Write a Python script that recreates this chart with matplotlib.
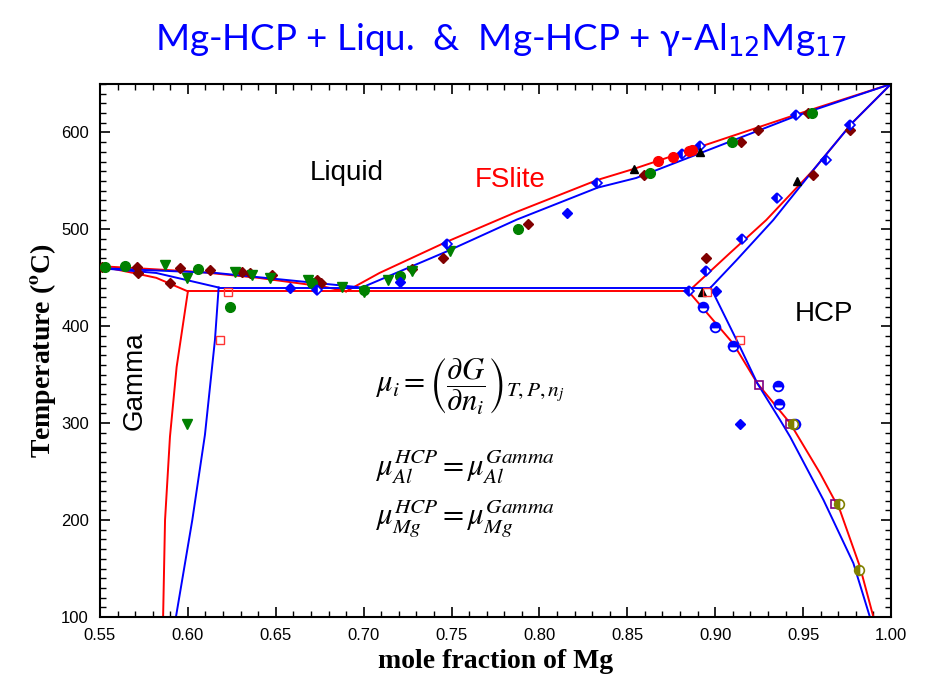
import matplotlib.pyplot as plt
from matplotlib.ticker import MultipleLocator

# calculated phase boundaries (red = FSlite, blue = second assessment)
red_liq_al_x = [0.550, 0.570, 0.607, 0.640, 0.677, 0.690]
red_liq_al_t = [462, 460, 456, 450, 441, 436]
red_liq_mg_x = [0.690, 0.709, 0.747, 0.787, 0.833, 0.853, 0.952, 1.000]
red_liq_mg_t = [436, 455, 487, 518, 551, 562, 622, 650]
red_gam_sol_x = [0.550, 0.569, 0.582, 0.600]
red_gam_sol_t = [462, 455, 450, 436]
red_gam_svs_x = [0.600, 0.5936, 0.5898, 0.5870, 0.5859]
red_gam_svs_t = [436, 358, 286, 200, 100]
red_eut_x = [0.600, 0.8848]
red_eut_t = [436, 436]
red_hcp_sol_x = [0.8848, 0.9084, 0.929, 0.9557, 0.978, 1.000]
red_hcp_sol_t = [436, 475.6, 509.6, 561, 610, 650]
red_hcp_svs_x = [0.8848, 0.9103, 0.924, 0.9426, 0.9596, 0.971, 0.9823, 0.990]
red_hcp_svs_t = [436, 382, 341, 300, 248.5, 210, 152, 100]

blue_liq_al_x = [0.550, 0.616, 0.699]
blue_liq_al_t = [460, 455, 440]
blue_liq_mg_x = [0.699, 0.747, 0.787, 0.833, 0.855, 0.946, 1.000]
blue_liq_mg_t = [440, 477, 510, 543, 553, 617, 650]
blue_gam_sol_x = [0.550, 0.582, 0.6175]
blue_gam_sol_t = [460, 455, 440]
blue_gam_svs_x = [0.6175, 0.6154, 0.6097, 0.6025, 0.5932]
blue_gam_svs_t = [440, 386, 288, 200, 100]
blue_eut_x = [0.6175, 0.8974]
blue_eut_t = [440, 440]
blue_hcp_sol_x = [0.8974, 0.912, 0.933, 0.9557, 0.978, 1.000]
blue_hcp_sol_t = [440, 468, 509.6, 561, 610, 650]
blue_hcp_svs_x = [0.8974, 0.914, 0.924, 0.937, 0.9426, 0.9616, 0.9786, 0.988]
blue_hcp_svs_t = [440, 379, 341, 303, 286, 220.7, 155.5, 100]

# experimental points
drd_x = [0.551, 0.571, 0.5718, 0.5898, 0.5955, 0.6126, 0.6306, 0.6353, 0.6477,
         0.6733, 0.676, 0.7273, 0.745, 0.7933, 0.8595, 0.9145, 0.9245, 0.953,
         0.9767, 0.9554, 0.8948]
drd_t = [461, 461, 455, 444.5, 459.8, 458, 456.3, 454.7, 453, 447.8, 444.4, 459,
         470, 506, 556, 590, 602.5, 620.4, 602.5, 556, 470.4]
gci_x = [0.5528, 0.564, 0.606, 0.6704, 0.700, 0.7207, 0.788, 0.863, 0.9093,
         0.955, 0.624]
gci_t = [461.5, 462, 459, 444.4, 437.4, 452, 500, 558.5, 590.5, 619.7, 419.5]
gtr_x = [0.587, 0.5997, 0.6268, 0.6363, 0.6467, 0.6685, 0.6875, 0.700, 0.714,
         0.7273, 0.749, 0.5997]
gtr_t = [463, 449.5, 456.3, 453, 449.5, 447.8, 441, 435, 447.8, 457.3, 478, 299]
bdi_x = [0.658, 0.7207, 0.8158, 0.9002, 0.9141]
bdi_t = [440, 446, 516.6, 436.7, 299]
bhd_x = [0.6733, 0.7473, 0.8326, 0.881, 0.8915, 0.946, 0.9767, 0.9633, 0.935,
         0.915, 0.8948, 0.8848]
bhd_t = [437.4, 485, 548.2, 577.8, 586, 618, 607.7, 571.6, 532, 490, 457.4, 436.7]
ktr_x = [0.8538, 0.8915, 0.9463, 0.8922]
ktr_t = [562, 580, 550.3, 435]
rci_x = [0.8676, 0.8758, 0.8848, 0.8866]
rci_t = [570.5, 574.4, 581, 582]
rsq_x = [0.623, 0.6183, 0.8954, 0.9141]
rsq_t = [435.6, 385.8, 435.6, 385.8]
bhc_x = [0.893, 0.900, 0.910, 0.9359, 0.9363, 0.9454]
bhc_t = [419.6, 399, 379.6, 338.7, 319.5, 299]
psq_x = [0.9249, 0.9426, 0.968]
psq_t = [339.4, 299, 216.5]
oci_x = [0.944, 0.9705, 0.982]
oci_t = [299, 216.5, 148.5]

fig = plt.figure(figsize=(9.26, 6.77), dpi=100)
ax = fig.add_axes([100 / 926, 60 / 677, 791 / 926, 533 / 677])

red_lines = [(red_liq_al_x, red_liq_al_t), (red_liq_mg_x, red_liq_mg_t),
             (red_gam_sol_x, red_gam_sol_t), (red_gam_svs_x, red_gam_svs_t),
             (red_eut_x, red_eut_t), (red_hcp_sol_x, red_hcp_sol_t),
             (red_hcp_svs_x, red_hcp_svs_t)]
blue_lines = [(blue_liq_al_x, blue_liq_al_t), (blue_liq_mg_x, blue_liq_mg_t),
              (blue_gam_sol_x, blue_gam_sol_t), (blue_gam_svs_x, blue_gam_svs_t),
              (blue_eut_x, blue_eut_t), (blue_hcp_sol_x, blue_hcp_sol_t),
              (blue_hcp_svs_x, blue_hcp_svs_t)]
for x, t in red_lines:
    ax.plot(x, t, color='#ff0000', lw=1.4, zorder=2)
for x, t in blue_lines:
    ax.plot(x, t, color='#0000ff', lw=1.4, zorder=2)

ms = 6.5
ax.plot(drd_x, drd_t, 'D', color='#800000', ms=ms - 1, ls='none', zorder=3)
ax.plot(gci_x, gci_t, 'o', color='#008000', ms=ms + 0.5, ls='none', zorder=3)
ax.plot(gtr_x, gtr_t, 'v', color='#008000', ms=ms, ls='none', zorder=3)
ax.plot(bdi_x, bdi_t, 'D', color='#0000ff', ms=ms - 1.5, ls='none', zorder=3)
ax.plot(bhd_x, bhd_t, 'D', color='#0000ff', ms=ms - 1.5, ls='none', zorder=3,
        fillstyle='left', markerfacecoloralt='white', mew=1.2)
ax.plot(ktr_x, ktr_t, '^', color='black', ms=ms - 0.5, ls='none', zorder=3)
ax.plot(rci_x, rci_t, 'o', color='#ff0000', ms=ms + 0.5, ls='none', zorder=3)
ax.plot(rsq_x, rsq_t, 's', mfc='none', mec='#ff3333', ms=ms - 1, ls='none',
        mew=1.0, zorder=3)
ax.plot(bhc_x, bhc_t, 'o', color='#0000ff', ms=ms + 0.5, ls='none', zorder=3,
        fillstyle='top', markerfacecoloralt='white', mew=1.3)
ax.plot(psq_x, psq_t, 's', mfc='none', mec='#800080', ms=ms - 1, ls='none',
        mew=1.2, zorder=3)
ax.plot(oci_x, oci_t, 'o', color='#808000', ms=ms + 0.5, ls='none', zorder=4,
        fillstyle='left', markerfacecoloralt='white', mew=1.2)

ax.set_xlim(0.55, 1.00)
ax.set_ylim(100, 650)
ax.xaxis.set_major_locator(MultipleLocator(0.05))
ax.xaxis.set_minor_locator(MultipleLocator(0.01))
ax.yaxis.set_major_locator(MultipleLocator(100))
ax.yaxis.set_minor_locator(MultipleLocator(10))
ax.set_xticklabels([f'{v:.2f}' for v in ax.get_xticks()])
ax.tick_params(which='both', direction='in', top=True, right=True,
               labelsize=12, pad=8)
ax.tick_params(which='major', length=7, width=1.2)
ax.tick_params(which='minor', length=4, width=1.0)
for lab in ax.get_xticklabels() + ax.get_yticklabels():
    lab.set_fontfamily('Liberation Sans')
for sp in ax.spines.values():
    sp.set_linewidth(1.5)

ax.set_xlabel('mole fraction of Mg', family='Liberation Serif',
              weight='bold', fontsize=20, labelpad=4)
ax.set_ylabel(r'Temperature ($\mathbf{^{o}}$C)', family='Liberation Serif',
              weight='bold', fontsize=20, math_fontfamily='stix', labelpad=2)

# phase field labels
lab_font = dict(family='Liberation Sans', fontsize=20)
ax.text(0.6905, 558, 'Liquid', ha='center', va='center', **lab_font)
ax.text(0.7836, 551, 'FSlite', ha='center', va='center', color='#ff0000',
        **lab_font)
ax.text(0.9618, 413, 'HCP', ha='center', va='center', **lab_font)
ax.text(0.5699, 344, 'Gamma', ha='center', va='center', rotation=90,
        **lab_font)

# equilibrium conditions
eq_font = dict(fontsize=22, math_fontfamily='stix', ha='left')
ax.text(0.7065, 338,
        r'$\mu_i = \left(\dfrac{\partial G}{\partial n_i}\right)_{T,P,n_j}$',
        va='center', **eq_font)
ax.text(0.7065, 246, r'$\mu_{Al}^{HCP} = \mu_{Al}^{Gamma}$',
        va='baseline', **eq_font)
ax.text(0.7065, 194, r'$\mu_{Mg}^{HCP} = \mu_{Mg}^{Gamma}$',
        va='baseline', **eq_font)

fig.text(0.541, 0.941,
         r'Mg-HCP + Liqu.  &  Mg-HCP + γ-Al$_{12}$Mg$_{17}$',
         ha='center', va='center', color='#0000ff', fontsize=26.5,
         family=['Lato', 'DejaVu Sans'], math_fontfamily='dejavusans')

fig.savefig('out.png', dpi=100)
